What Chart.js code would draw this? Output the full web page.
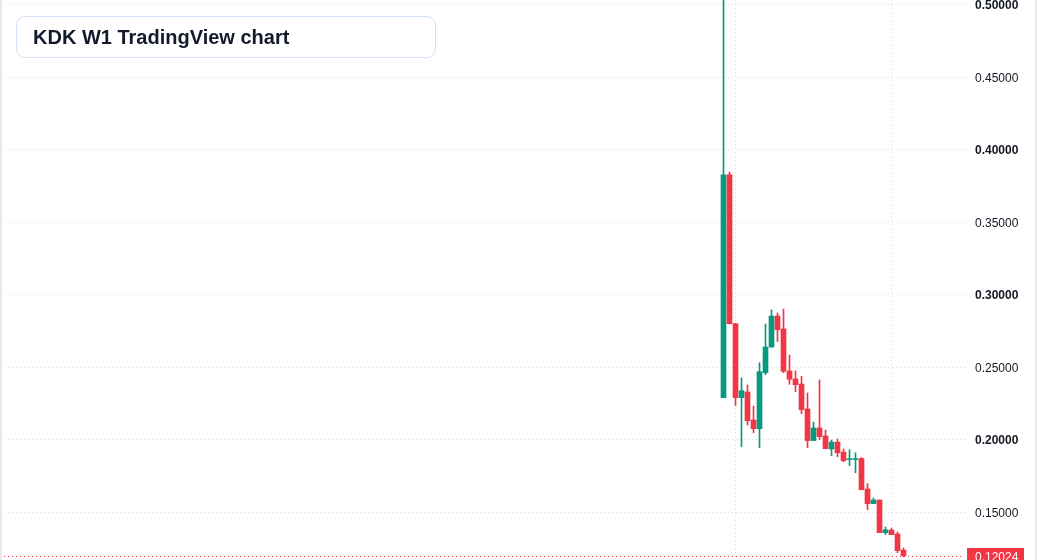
<!DOCTYPE html>
<html>
<head>
<meta charset="utf-8">
<script src="https://cdn.jsdelivr.net/npm/chart.js@4.4.1/dist/chart.umd.min.js"></script>
<style>
  html, body { margin: 0; padding: 0; background: #ffffff; }
  #wrap { position: relative; width: 1037px; height: 560px; overflow: hidden; }
  #c { position: absolute; left: 0; top: 0; }
  #title {
    position: absolute; left: 16px; top: 16px; width: 418px; height: 40px;
    border: 1px solid #d3e2f5; border-radius: 9px; background: #ffffff;
    box-sizing: content-box;
    font-family: "Liberation Sans", Arial, sans-serif; font-weight: bold;
    font-size: 20px; color: #131a2b; line-height: 40px; padding: 0;
  }
  #title span { position: absolute; left: 16px; top: 0px; }
  #lb { position: absolute; left: 0; top: 0; width: 2px; height: 560px; background: #e9e9ec; }
  #rb { position: absolute; left: 1035px; top: 0; width: 2px; height: 560px; background: #ececef; }
</style>
</head>
<body>
<div id="wrap">
  <canvas id="c" width="1037" height="560"></canvas>
  <div id="lb"></div>
  <div id="rb"></div>
  <div id="title"><span>KDK W1 TradingView chart</span></div>
</div>
<script>
// ---- data (weekly candles) ----
const weekIndex = [0,1,2,3,4,5,6,7,8,9,10,11,12,13,14,15,16,17,18,19,20,21,22,23,24,25,26,27,28,29,30];
const openV  = [0.2292,0.3828,0.2802,0.2292,0.2331,0.2138,0.2078,0.2464,0.2641,0.2855,0.2766,0.2476,0.2421,0.2386,0.2214,0.1996,0.2083,0.2028,0.1938,0.1986,0.1917,0.1865,0.1865,0.1872,0.1662,0.1561,0.1586,0.1361,0.1379,0.1352,0.1241];
const highV  = [0.5600,0.3848,0.2805,0.2428,0.2379,0.2234,0.2533,0.2800,0.2897,0.2876,0.2903,0.2586,0.2476,0.2439,0.2324,0.2124,0.2414,0.2069,0.2000,0.2007,0.1938,0.1933,0.1912,0.1879,0.1699,0.1600,0.1586,0.1400,0.1393,0.1366,0.1255];
const lowV   = [0.2292,0.2800,0.2237,0.1954,0.2103,0.2050,0.1947,0.2450,0.2641,0.2678,0.2464,0.2384,0.2333,0.2181,0.1947,0.1996,0.2003,0.1940,0.1892,0.1885,0.1850,0.1823,0.1774,0.1657,0.1519,0.1561,0.1361,0.1347,0.1347,0.1223,0.1195];
const closeV = [0.3828,0.2802,0.2292,0.2340,0.2133,0.2078,0.2471,0.2641,0.2855,0.2761,0.2474,0.2419,0.2381,0.2209,0.1996,0.2083,0.2023,0.1940,0.1986,0.1912,0.1857,0.1868,0.1868,0.1657,0.1561,0.1586,0.1361,0.1381,0.1347,0.1237,0.12024];
const priceTicks = [0.15,0.20,0.25,0.30,0.35,0.40,0.45,0.50];
const timeGridAt = [2,28];
const lastPrice = 0.12024;

const UP = '#089981', DOWN = '#F23645';
const colors = weekIndex.map((_, i) => closeV[i] >= openV[i] ? UP : DOWN);

const bodies = weekIndex.map((w, i) => ({ x: w, y: [openV[i], closeV[i]] }));
const wicks  = weekIndex.map((w, i) => ({ x: w, y: [lowV[i], highV[i]] }));

const FONT = '"Liberation Sans", Arial, sans-serif';

const lastPricePlugin = {
  id: 'lastPrice',
  afterDatasetsDraw(chart) {
    const { ctx, chartArea } = chart;
    const ys = chart.scales.y;
    const y = Math.round(ys.getPixelForValue(lastPrice)) + 0.5;
    ctx.save();
    ctx.strokeStyle = DOWN;
    ctx.lineWidth = 1;
    ctx.setLineDash([1, 3]);
    ctx.beginPath();
    ctx.moveTo(chartArea.left, y);
    ctx.lineTo(chartArea.right - 2, y);
    ctx.stroke();
    ctx.setLineDash([]);
    ctx.fillStyle = DOWN;
    ctx.fillRect(chartArea.right + 2, y - 8.5, 57, 17);
    ctx.fillStyle = '#ffffff';
    ctx.font = '12px ' + FONT;
    ctx.textBaseline = 'middle';
    ctx.textAlign = 'left';
    ctx.fillText(lastPrice.toFixed(5), chartArea.right + 10, y + 1);
    ctx.restore();
  }
};

new Chart(document.getElementById('c'), {
  type: 'bar',
  data: {
    datasets: [
      { label: 'wick', data: wicks, backgroundColor: colors, barThickness: 1, grouped: false, order: 2 },
      { label: 'body', data: bodies, backgroundColor: colors, barThickness: 5, minBarLength: 1, grouped: false, order: 1 }
    ]
  },
  options: {
    responsive: false,
    animation: false,
    devicePixelRatio: 1,
    layout: { padding: 0 },
    plugins: { legend: { display: false }, tooltip: { enabled: false }, title: { display: false } },
    scales: {
      x: {
        type: 'linear',
        min: -120.583,
        max: 40.25,
        offset: false,
        grid: { offset: false, color: '#d6d8de', drawTicks: false },
        border: { display: false, dash: [1, 3] },
        ticks: { display: false },
        afterBuildTicks: (s) => { s.ticks = timeGridAt.map(v => ({ value: v })); },
        afterFit: (s) => { s.height = 0; s.paddingLeft = 0; s.paddingRight = 0; }
      },
      y: {
        type: 'linear',
        position: 'right',
        min: 0.117241,
        max: 0.503448,
        grid: { color: '#d6d8de', drawTicks: false },
        border: { display: false, dash: [1, 3] },
        ticks: {
          padding: 10,
          labelOffset: 1,
          color: '#131722',
          font: (ctx) => ({
            family: FONT,
            size: 12,
            weight: (ctx.tick && Math.round(ctx.tick.value * 100) % 10 === 0) ? 'bold' : 'normal'
          }),
          callback: (v) => Number(v).toFixed(5)
        },
        afterBuildTicks: (s) => { s.ticks = priceTicks.map(v => ({ value: v })); },
        afterFit: (s) => { s.width = 72; s.paddingTop = 0; s.paddingBottom = 0; }
      }
    }
  },
  plugins: [lastPricePlugin]
});
</script>
</body>
</html>
